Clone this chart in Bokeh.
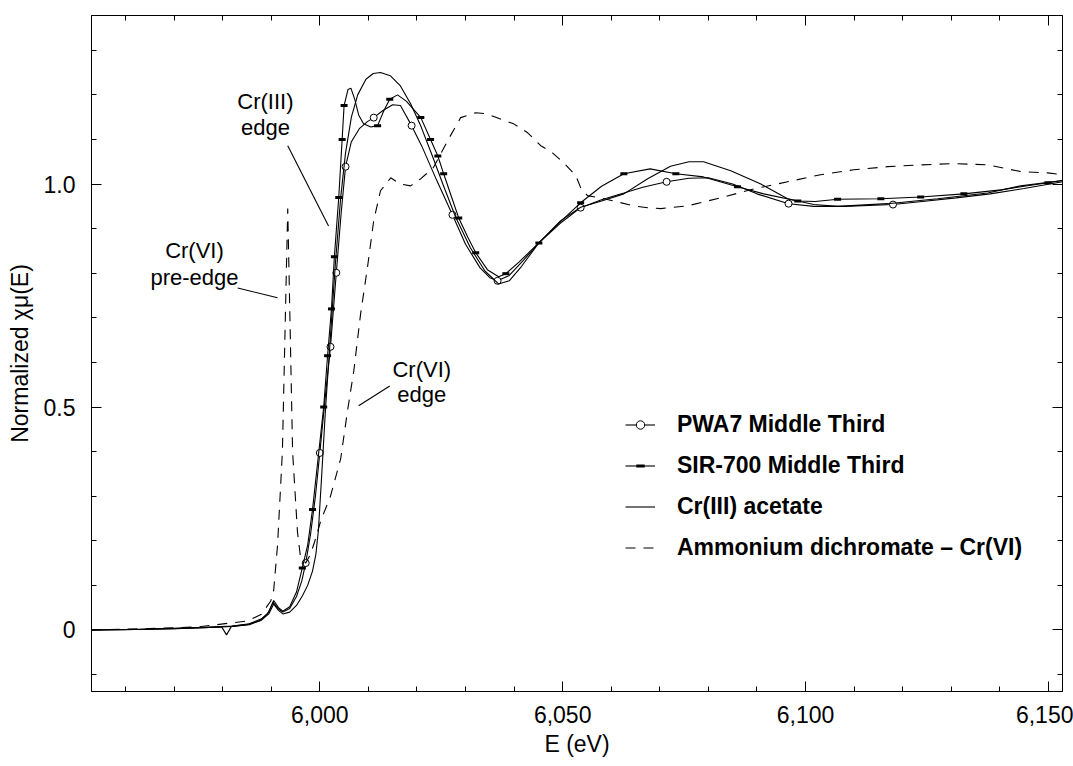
from bokeh.plotting import figure
from bokeh.models import (Range1d, LinearAxis, FixedTicker, NumeralTickFormatter,
                          CustomJSTickFormatter, Legend, LegendItem, ColumnDataSource)
from bokeh.core.properties import value
from bokeh.embed import file_html
from bokeh.resources import INLINE

# ---- Cr K-edge XANES spectra: energy (eV) and normalized absorption ----
pwa7_e = [5953, 5962, 5970, 5976, 5979.8, 5980.8, 5981.8, 5985, 5987.5, 5989.2,
          5990.4, 5991.5, 5992.4, 5993.8, 5995.2, 5996.3, 5997.1, 5998.1, 5999.1, 6000.0,
          6001.1, 6002.2, 6003.4, 6004.4, 6005.3, 6006.5, 6008.2, 6009.8, 6011.1, 6013.0,
          6015.0, 6016.6, 6018.9, 6021.0, 6024.0, 6027.3, 6030.0, 6033.0, 6035.0, 6036.6,
          6039.0, 6042.0, 6045.1, 6049.5, 6053.7, 6058.0, 6062.6, 6066.5, 6071.4, 6076.0,
          6080.0, 6085.0, 6090.0, 6096.5, 6101.7, 6108.0, 6118.0, 6125.0, 6131.0, 6138.0,
          6145.0, 6152.9]
pwa7_mu = [0.000, 0.001, 0.003, 0.005, 0.007, -0.011, 0.008, 0.012, 0.020, 0.035,
           0.062, 0.047, 0.040, 0.048, 0.075, 0.110, 0.150, 0.215, 0.300, 0.397,
           0.520, 0.635, 0.801, 0.935, 1.039, 1.095, 1.125, 1.140, 1.149, 1.165,
           1.178, 1.176, 1.131, 1.085, 1.010, 0.931, 0.865, 0.812, 0.790, 0.783,
           0.795, 0.830, 0.868, 0.912, 0.947, 0.965, 0.980, 0.993, 1.005, 1.013,
           1.014, 1.000, 0.978, 0.956, 0.950, 0.950, 0.954, 0.962, 0.969, 0.978,
           0.990, 1.005]
pwa7_marks = [16, 19, 21, 22, 24, 28, 32, 35, 39, 44, 48, 53, 56]

sir_e = [5953, 5962, 5970, 5976, 5982, 5985.5, 5988, 5989.5, 5990.5, 5991.5,
         5992.4, 5993.8, 5995.2, 5996.4, 5997.5, 5998.5, 5999.6, 6000.8, 6001.6, 6002.4,
         6003.0, 6003.9, 6004.6, 6005.0, 6005.8, 6006.4, 6007.2, 6008.0, 6009.0, 6010.5,
         6011.9, 6013.2, 6014.4, 6016.0, 6017.8, 6020.8, 6022.8, 6024.3, 6025.5, 6027.0,
         6028.6, 6030.5, 6032.1, 6034.5, 6036.8, 6038.3, 6041.0, 6045.1, 6049.5, 6053.7,
         6058.0, 6062.6, 6068.0, 6073.3, 6079.0, 6086.0, 6091.4, 6098.4, 6102.0, 6106.6,
         6115.5, 6123.7, 6132.6, 6140.2, 6149.9, 6152.9]
sir_mu = [0.000, 0.001, 0.004, 0.006, 0.009, 0.014, 0.025, 0.040, 0.066, 0.050,
          0.042, 0.052, 0.085, 0.139, 0.190, 0.270, 0.380, 0.500, 0.615, 0.720,
          0.837, 0.970, 1.100, 1.176, 1.212, 1.215, 1.190, 1.155, 1.135, 1.128,
          1.131, 1.165, 1.190, 1.200, 1.186, 1.149, 1.100, 1.063, 1.023, 0.975,
          0.924, 0.880, 0.846, 0.808, 0.792, 0.799, 0.825, 0.868, 0.915, 0.958,
          0.995, 1.023, 1.034, 1.023, 1.016, 0.994, 0.978, 0.962, 0.961, 0.966,
          0.967, 0.971, 0.978, 0.987, 1.003, 1.008]
sir_marks = [13, 15, 17, 18, 19, 20, 21, 22, 23, 30, 32, 35, 36, 37, 38, 40, 42, 45,
             47, 49, 51, 53, 55, 57, 59, 60, 61, 62, 64]

cr3_e = [5953, 5962, 5970, 5976, 5982, 5985.5, 5988, 5989.5, 5990.5, 5991.5,
         5992.4, 5993.8, 5995.2, 5996.4, 5997.5, 5998.5, 5999.2, 5999.7, 6000.3, 6001.2,
         6002.2, 6003.2, 6004.3, 6005.3, 6006.5, 6007.8, 6009.5, 6011.0, 6012.5, 6014.5,
         6016.6, 6018.7, 6020.8, 6023.0, 6025.5, 6028.0, 6031.0, 6034.0, 6036.8, 6039.0,
         6041.5, 6045.1, 6049.6, 6053.7, 6058.0, 6062.6, 6067.5, 6072.2, 6076.0, 6079.0,
         6084.6, 6090.8, 6096.3, 6101.7, 6106.6, 6116.9, 6127.2, 6137.5, 6144.3, 6152.9]
cr3_mu = [0.000, 0.001, 0.003, 0.005, 0.008, 0.012, 0.022, 0.036, 0.058, 0.044,
          0.036, 0.040, 0.055, 0.076, 0.100, 0.132, 0.170, 0.222, 0.330, 0.500,
          0.660, 0.820, 0.970, 1.070, 1.150, 1.200, 1.235, 1.248, 1.250, 1.243,
          1.220, 1.180, 1.130, 1.068, 0.995, 0.925, 0.857, 0.805, 0.776, 0.783,
          0.815, 0.868, 0.918, 0.948, 0.962, 0.978, 1.012, 1.040, 1.050, 1.050,
          1.030, 1.000, 0.967, 0.954, 0.950, 0.956, 0.967, 0.980, 0.996, 1.008]

cr6_e = [5953, 5965, 5975, 5985, 5988, 5989.9, 5990.5, 5991.3, 5992.3, 5993.4,
         5994.4, 5995.4, 5996.0, 5997.1, 5998.1, 5999.0, 6000.2, 6002.2, 6004.3, 6005.7,
         6007.0, 6008.4, 6009.8, 6011.1, 6012.5, 6014.6, 6016.6, 6018.7, 6020.8, 6023.4,
         6026.3, 6029.0, 6032.1, 6034.1, 6037.2, 6039.9, 6042.8, 6045.5, 6047.9, 6050.2,
         6052.7, 6053.7, 6055.1, 6057.8, 6060.5, 6064.6, 6067.5, 6070.2, 6075.7, 6082.5,
         6089.3, 6096.3, 6103.1, 6109.9, 6116.9, 6123.7, 6130.5, 6137.5, 6140.2, 6144.3,
         6149.9, 6152.9]
cr6_mu = [0.000, 0.003, 0.007, 0.020, 0.035, 0.065, 0.088, 0.190, 0.400, 0.945,
          0.400, 0.220, 0.166, 0.150, 0.170, 0.200, 0.245, 0.300, 0.384, 0.491,
          0.581, 0.709, 0.812, 0.918, 0.985, 1.014, 1.000, 0.996, 1.012, 1.037,
          1.097, 1.149, 1.160, 1.158, 1.146, 1.135, 1.115, 1.086, 1.070, 1.048,
          1.019, 0.992, 0.974, 0.969, 0.962, 0.951, 0.947, 0.945, 0.951, 0.969,
          0.989, 1.005, 1.021, 1.032, 1.039, 1.043, 1.046, 1.043, 1.037, 1.028,
          1.025, 1.021]

series_labels = ["PWA7 Middle Third", "SIR-700 Middle Third", "Cr(III) acetate",
                 "Ammonium dichromate \u2013 Cr(VI)"]

# feature annotations (text, energy, mu) and their leader lines
ann_text = ["Cr(III)", "edge", "Cr(VI)", "pre-edge", "Cr(VI)", "edge"]
ann_x = [5988.8, 5988.8, 5974.2, 5974.2, 6021.0, 6021.0]
ann_y = [1.185, 1.126, 0.850, 0.790, 0.583, 0.527]
lead_x0 = [5993.4, 5983.1, 6008.0]
lead_y0 = [1.086, 0.767, 0.503]
lead_x1 = [6001.8, 5991.3, 6014.4]
lead_y1 = [0.906, 0.745, 0.547]

x_ticks = [6000, 6050, 6100, 6150]
x_minor = list(range(5960, 6151, 10))
y_ticks = [0, 0.5, 1.0]
y_minor = [-0.1, 0.1, 0.2, 0.3, 0.4, 0.6, 0.7, 0.8, 0.9, 1.1, 1.2, 1.3]

FONT = "Liberation Sans"

p = figure(width=1073, height=766, output_backend="svg", toolbar_location=None,
           x_range=Range1d(5953, 6152.9), y_range=Range1d(-0.138, 1.378),
           min_border_left=91, min_border_right=11, min_border_top=15,
           min_border_bottom=75)
p.xgrid.visible = False
p.ygrid.visible = False
p.outline_line_color = "black"
p.background_fill_color = "white"
p.border_fill_color = "white"


def style_axis(ax, ticks, minor):
    ax.ticker = FixedTicker(ticks=ticks, minor_ticks=minor)
    ax.major_tick_in = 10
    ax.major_tick_out = 0
    ax.minor_tick_in = 5
    ax.minor_tick_out = 0
    ax.axis_line_color = "black"
    ax.major_tick_line_color = "black"
    ax.minor_tick_line_color = "black"
    ax.major_label_text_font = FONT
    ax.major_label_text_font_size = "23px"
    ax.major_label_text_color = "black"
    ax.axis_label_text_font = FONT
    ax.axis_label_text_font_size = "23px"
    ax.axis_label_text_font_style = "normal"
    ax.axis_label_text_color = "black"


style_axis(p.xaxis[0], x_ticks, x_minor)
style_axis(p.yaxis[0], y_ticks, y_minor)
p.xaxis[0].formatter = NumeralTickFormatter(format="0,0")
p.yaxis[0].formatter = CustomJSTickFormatter(
    code="return Math.abs(tick) < 1e-9 ? '0' : tick.toFixed(1);")
p.xaxis[0].axis_label = "E (eV)"
p.yaxis[0].axis_label = "Normalized \u03c7\u03bc(E)"
p.xaxis[0].major_label_standoff = 14
p.xaxis[0].axis_label_standoff = 5
p.yaxis[0].major_label_standoff = 16
p.yaxis[0].axis_label_standoff = 8

# mirrored tick marks on the top and right frame edges
for loc, ticks, minor in (("above", x_ticks, x_minor), ("right", y_ticks, y_minor)):
    ax = LinearAxis()
    style_axis(ax, ticks, minor)
    ax.formatter = CustomJSTickFormatter(code="return '';")
    ax.major_label_text_font_size = "0px"
    ax.major_label_standoff = 0
    p.add_layout(ax, loc)

lw = 1.1
r_pwa = p.line(pwa7_e, pwa7_mu, line_color="black", line_width=lw)
r_pwa_m = p.scatter([pwa7_e[i] for i in pwa7_marks], [pwa7_mu[i] for i in pwa7_marks],
                    marker="circle", size=7, fill_color="white", line_color="black",
                    line_width=1)
r_sir = p.line(sir_e, sir_mu, line_color="black", line_width=lw)
r_sir_m = p.scatter([sir_e[i] for i in sir_marks], [sir_mu[i] for i in sir_marks],
                    marker="dash", size=7, line_color="black", line_width=3)
r_cr3 = p.line(cr3_e, cr3_mu, line_color="black", line_width=lw)
r_cr6 = p.line(cr6_e, cr6_mu, line_color="black", line_width=lw, line_dash="10 8")

# annotations
p.segment(lead_x0, lead_y0, lead_x1, lead_y1, line_color="black", line_width=1.1)
ann_src = ColumnDataSource(dict(x=ann_x, y=ann_y, t=ann_text))
p.text(x="x", y="y", text="t", source=ann_src, text_font=value(FONT),
       text_font_size=value("22px"), text_align="center", text_baseline="middle",
       text_color="black")

legend = Legend(items=[
    LegendItem(label=series_labels[0], renderers=[r_pwa, r_pwa_m]),
    LegendItem(label=series_labels[1], renderers=[r_sir, r_sir_m]),
    LegendItem(label=series_labels[2], renderers=[r_cr3]),
    LegendItem(label=series_labels[3], renderers=[r_cr6]),
], location=(534, 130))
legend.label_text_font = FONT
legend.label_text_font_size = "23px"
legend.label_text_font_style = "bold"
legend.label_text_color = "black"
legend.glyph_width = 30
legend.glyph_height = 21
legend.label_height = 21
legend.label_standoff = 22
legend.spacing = 14
legend.padding = 0
legend.margin = 0
legend.border_line_color = None
legend.background_fill_alpha = 0
p.add_layout(legend, "center")

open("out.html", "w").write(file_html(p, INLINE))
